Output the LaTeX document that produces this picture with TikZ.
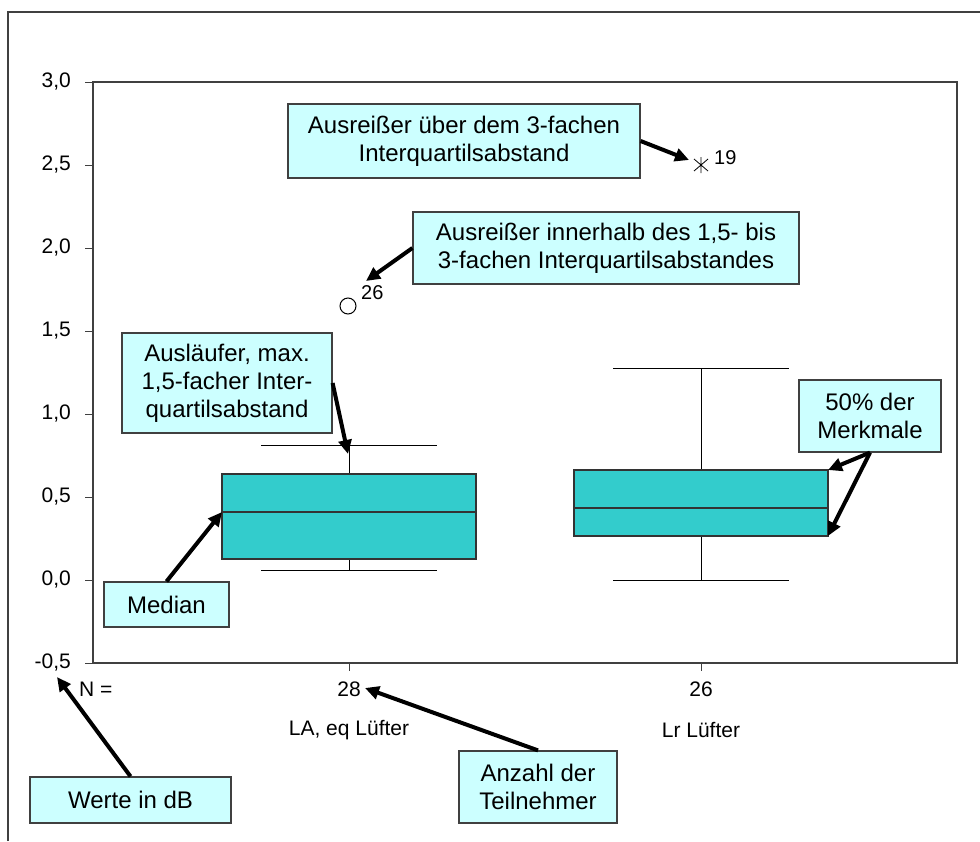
\documentclass[tikz,border=0pt]{standalone}
\usepackage{fontspec}
\setmainfont{Liberation Sans}
\usetikzlibrary{arrows.meta}

\definecolor{boxteal}{HTML}{33CCCC}
\definecolor{notecyan}{HTML}{CCFFFF}
\definecolor{framegray}{HTML}{404040}

\begin{document}
\begin{tikzpicture}[x=1pt, y=-1pt,
    note/.style={draw=framegray, line width=1.2pt, fill=notecyan, align=center,
                 inner sep=0pt, font=\fontsize{24}{28}\selectfont},
    pointer/.style={line width=4pt, -{Triangle[length=14pt,width=13pt]}},
    axislabel/.style={inner sep=0pt, font=\fontsize{21}{24}\selectfont},
    caselabel/.style={inner sep=0pt, font=\fontsize{20}{24}\selectfont},
    whisker/.style={line width=1pt},
    quartbox/.style={draw=black!80, line width=1.2pt, fill=boxteal}]
    \useasboundingbox (0,0) rectangle (980,841);

    % frame of the page and of the plot
    \draw[framegray, line width=1.5pt] (8,841) -- (8,12) -- (980,12);
    \draw[framegray, line width=1.2pt] (93,82) rectangle (957,663);

    % value axis
    \foreach \ypos/\lab in {82/{3,0}, 165/{2,5}, 248/{2,0}, 331/{1,5},
                            414/{1,0}, 497/{0,5}, 580/{0,0}, 663/{-0,5}} {
        \draw[framegray, line width=1pt] (85,\ypos) -- (93,\ypos);
        \node[axislabel, anchor=east] (y\ypos) at (71,\ypos) {\lab};
    }
    \foreach \xpos in {349,701}
        \draw[framegray, line width=1pt] (\xpos,663) -- (\xpos,671);

    % boxes: centre / upper whisker / Q3 / median / Q1 / lower whisker
    \foreach \cx/\wt/\qt/\md/\qb/\wb in {349/445/474/512/559/570,
                                         701/368/470/508/536/580} {
        \draw[whisker] (\cx,\wt) -- (\cx,\wb);
        \draw[whisker] (\cx-88,\wt) -- (\cx+88,\wt);
        \draw[whisker] (\cx-88,\wb) -- (\cx+88,\wb);
        \filldraw[quartbox] (\cx-127,\qt) rectangle (\cx+127,\qb);
        \draw[line width=1.2pt, black!80] (\cx-127,\md) -- (\cx+127,\md);
    }

    % outliers
    \draw[line width=1pt] (348,306) circle (8);
    \node[caselabel, anchor=west] (case26) at (361,293) {26};
    \draw[line width=0.8pt] (694,159) -- (708,171) (694,171) -- (708,159)
                            (701,157) -- (701,173);
    \node[caselabel, anchor=west] (case19) at (714,158) {19};

    % group labels
    \node[axislabel, anchor=west] (nlab) at (79,689) {N =};
    \node[axislabel] (n28) at (349,689) {28};
    \node[axislabel] (n26) at (701,689) {26};
    \node[axislabel] (grpA) at (349,730) {LA, eq Lüfter};
    \node[axislabel] (grpB) at (701,730) {Lr Lüfter};

    % callouts
    \node[note, minimum width=352pt, minimum height=74pt] (extreme) at (464,141)
        {Ausreißer über dem 3-fachen\\Interquartilsabstand};
    \node[note, minimum width=386pt, minimum height=72pt] (outlier) at (606,248)
        {Ausreißer innerhalb des 1,5- bis\\3-fachen Interquartilsabstandes};
    \node[note, minimum width=210pt, minimum height=100pt] (whisk) at (227,383)
        {Ausläufer, max.\\1,5-facher Inter-\\quartilsabstand};
    \node[note, minimum width=125pt, minimum height=45pt] (median) at (166.5,604.5)
        {Median};
    \node[note, minimum width=142pt, minimum height=72pt] (iqr) at (870,416)
        {50\% der\\Merkmale};
    \node[note, minimum width=201pt, minimum height=46pt] (unit) at (130.5,800)
        {Werte in dB};
    \node[note, minimum width=158pt, minimum height=72pt] (count) at (538,787)
        {Anzahl der\\Teilnehmer};

    % pointer targets
    \coordinate (starpt) at (689,160);
    \coordinate (circpt) at (366,281);
    \coordinate (whiskpt) at (348,454);
    \coordinate (medpt) at (222,512);
    \coordinate (q3pt) at (828,470);
    \coordinate (q1pt) at (828,536);
    \coordinate (unitpt) at (57,677);
    \coordinate (countpt) at (365,688);

    \draw[pointer] (extreme.east) -- (starpt);
    \draw[pointer] (outlier.west) -- (circpt);
    \draw[pointer] (whisk.east) -- (whiskpt);
    \draw[pointer] (median.north) -- (medpt);
    \draw[pointer] (iqr.south) -- (q3pt);
    \draw[pointer] (iqr.south) -- (q1pt);
    \draw[pointer] (unit.north) -- (unitpt);
    \draw[pointer] (count.north) -- (countpt);
\end{tikzpicture}
\end{document}
